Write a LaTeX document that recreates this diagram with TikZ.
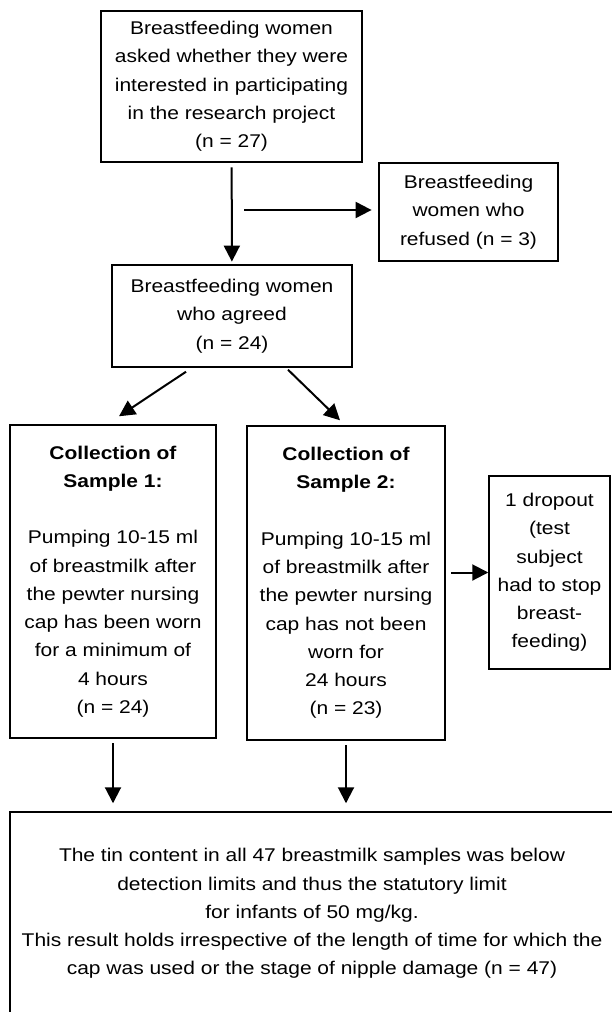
\documentclass[tikz,border=0pt]{standalone}
\usepackage{fontspec}
\setmainfont{Liberation Sans}[FakeStretch=1.14]
\usetikzlibrary{arrows.meta,calc,positioning}
\tikzset{
	box/.style={draw, line width=1.1pt, align=center, inner sep=0pt,
		font=\fontsize{13.8pt}{21.2pt}\selectfont},
	arr/.style={-{Triangle[length=12pt,width=12pt]}, line width=1.5pt},
}
\newcommand{\gap}{\\[21.2pt]}

\begin{document}
\begin{tikzpicture}[x=0.75pt,y=-0.75pt]
	\useasboundingbox (0,0) rectangle (611,1012);
	
	\node[box, minimum width=195.75pt, minimum height=113.25pt] (asked) at (231.5,86.5)
		{Breastfeeding women\\asked whether they were\\interested in participating\\in the research project\\(n = 27)};
	\node[box, minimum width=134.25pt, minimum height=73.5pt] (refused) at (468.5,212)
		{Breastfeeding\\women who\\refused (n = 3)};
	\node[box, minimum width=180pt, minimum height=76.5pt] (agreed) at (232,316)
		{Breastfeeding women\\who agreed\\(n = 24)};
	
	\node[box, minimum width=154.5pt, minimum height=234.75pt] (sample1) at (113,581.5)
		{\textbf{Collection of}\\\textbf{Sample 1:}\gap Pumping 10-15 ml\\of breastmilk after\\the pewter nursing\\cap has been worn\\for a minimum of\\4 hours\\(n = 24)};
	\node[box, minimum width=148.5pt, minimum height=235.5pt] (sample2) at (346,583)
		{\textbf{Collection of}\\\textbf{Sample 2:}\gap Pumping 10-15 ml\\of breastmilk after\\the pewter nursing\\cap has not been\\worn for\\24 hours\\(n = 23)};
	\node[box, minimum width=90.75pt, minimum height=144.75pt] (dropout) at (549.5,572.5)
		{1 dropout\\(test\\subject\\had to stop\\breast-\\feeding)};
	
	\node[box, minimum width=453pt, minimum height=152.25pt] (result) at (312,913.5)
		{The tin content in all 47 breastmilk samples was below\\detection limits and thus the statutory limit\\for infants of 50 mg/kg.\\This result holds irrespective of the length of time for which the\\cap was used or the stage of nipple damage (n = 47)};
	
	% arrows
	\coordinate (fork) at (244,210);
	\draw[arr, shorten <=3.5pt, shorten >=2pt] (asked) -- (agreed);
	\draw[arr, shorten >=5pt] (fork) -- (fork -| refused.west);
	\draw[arr] ($(agreed.south)+(-46,4)$) -- ($(sample1.north)+(6,-8)$);
	\draw[arr] ($(agreed.south)+(56,2)$) -- ($(sample2.north)+(-6,-5)$);
	\draw[arr, shorten <=4pt] (sample2.east |- dropout.west) -- (dropout.west);
	\draw[arr, shorten <=3.5pt, shorten >=6pt] (sample1.south) -- (sample1.south |- result.north);
	\draw[arr, shorten <=3.5pt, shorten >=6pt] (sample2.south) -- (sample2.south |- result.north);
\end{tikzpicture}
\end{document}
